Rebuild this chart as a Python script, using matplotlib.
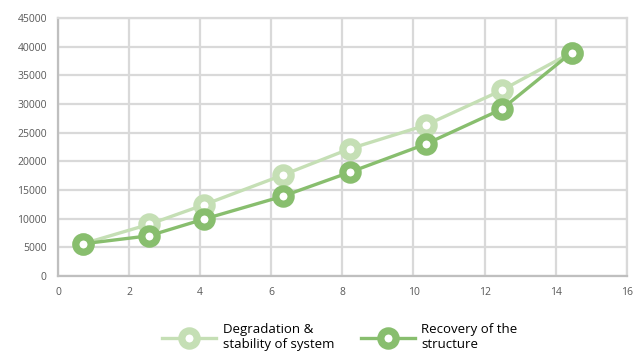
import matplotlib.pyplot as plt

# --- data ---
x_vals = [0.7, 2.56, 4.1, 6.32, 8.21, 10.34, 12.48, 14.45]
degradation = [5600, 9000, 12400, 17600, 22200, 26300, 32400, 39000]
recovery = [5600, 7000, 9900, 13900, 18100, 23000, 29100, 39000]
labels = ['Degradation &\nstability of system', 'Recovery of the\nstructure']

light = '#c5dfb5'
dark = '#88be6e'
grid_col = '#d9d9d9'
txt_col = '#595959'

plt.rcParams['font.family'] = ['Open Sans', 'DejaVu Sans']

fig = plt.figure(figsize=(6.35, 3.56), dpi=100)
ax = fig.add_axes([0.0913, 0.225, 0.8957, 0.724])

ax.plot(x_vals, degradation, color=light, lw=2.4, marker='o', ms=11,
        mew=5.2, mfc='white', mec=light, label=labels[0], zorder=3)
ax.plot(x_vals, recovery, color=dark, lw=2.4, marker='o', ms=11,
        mew=5.2, mfc='white', mec=dark, label=labels[1], zorder=4)

ax.set_xlim(0, 16)
ax.set_ylim(0, 45000)
ax.set_xticks(range(0, 17, 2))
ax.set_yticks(range(0, 45001, 5000))
ax.grid(True, color=grid_col, lw=1.6)
ax.set_axisbelow(True)
for s in ax.spines.values():
    s.set_color(grid_col)
    s.set_linewidth(1.6)
ax.spines['left'].set_color('#bfbfbf')
ax.spines['bottom'].set_color('#bfbfbf')
ax.tick_params(length=0, labelsize=7.5, labelcolor=txt_col, pad=8)

fig.legend(loc='center', bbox_to_anchor=(0.535, 0.052), ncol=2, frameon=False,
           fontsize=9.5, handlelength=4.1, columnspacing=2.0, handletextpad=0.5,
           labelspacing=0.2)

fig.savefig('out.png', dpi=100)
